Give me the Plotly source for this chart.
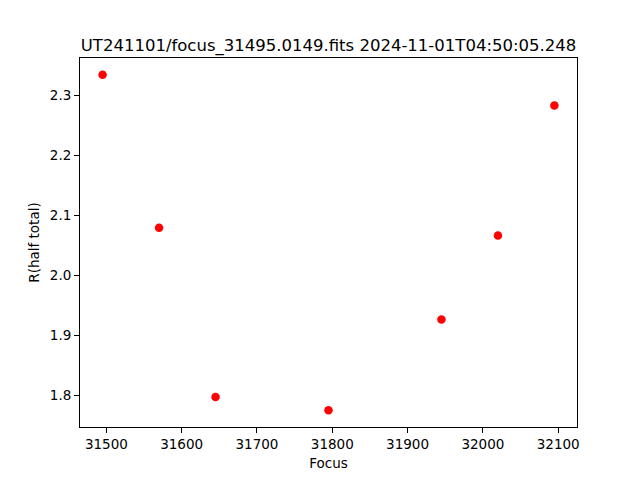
import plotly.graph_objects as go

focus = [31495, 31570, 31645, 31795, 31945, 32020, 32095]
r_half = [2.3345, 2.0797, 1.7977, 1.7755, 1.9267, 2.0666, 2.2833]
x_ticks = [31500, 31600, 31700, 31800, 31900, 32000, 32100]
y_ticks = [1.8, 1.9, 2.0, 2.1, 2.2, 2.3]
title = "UT241101/focus_31495.0149.fits 2024-11-01T04:50:05.248"

def padded(vals, frac=0.05):
    lo, hi = min(vals), max(vals)
    d = (hi - lo) * frac
    return [lo - d, hi + d]

fig = go.Figure(go.Scatter(
    x=focus, y=r_half, mode="markers",
    marker=dict(color="red", size=8.5, line=dict(width=0)),
))

axis_common = dict(
    showline=True, linecolor="black", linewidth=1, mirror=True,
    ticks="outside", ticklen=5, tickwidth=1, tickcolor="black",
    showgrid=False, zeroline=False,
    tickfont=dict(family="DejaVu Sans", size=13.5, color="black"),
)

fig.update_layout(
    width=640, height=480,
    margin=dict(l=80, r=63, t=58, b=53),
    paper_bgcolor="white", plot_bgcolor="white",
    font=dict(family="DejaVu Sans", color="black"),
    showlegend=False,
    title=dict(text=title, x=0.5, xref="paper", xanchor="center",
               y=1, yref="paper", yanchor="bottom", pad=dict(b=7),
               font=dict(family="DejaVu Sans", size=16.5, color="black")),
    xaxis=dict(range=padded(focus), tickvals=x_ticks, tickformat="d",
               title=dict(text="Focus", standoff=7,
                          font=dict(family="DejaVu Sans", size=13.5)),
               **axis_common),
    yaxis=dict(range=padded(r_half), tickvals=y_ticks, tickformat=".1f",
               title=dict(text="R(half total)", standoff=7,
                          font=dict(family="DejaVu Sans", size=13.5)),
               **axis_common),
)

fig.write_html("out.html", config={"displayModeBar": False},
               post_script="document.body.style.margin='0';")
